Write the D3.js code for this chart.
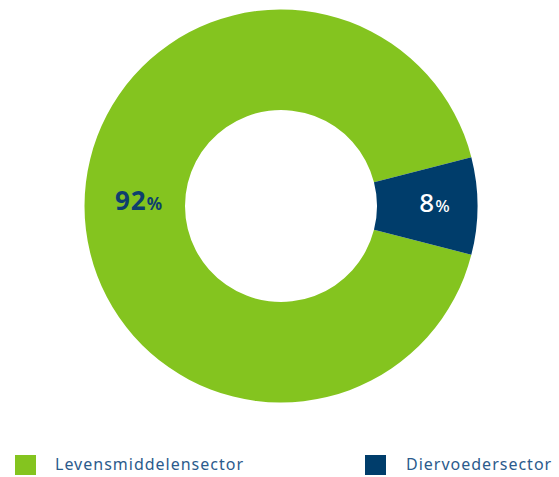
<!DOCTYPE html>
<html>
<head>
<meta charset="utf-8">
<script src="https://cdn.jsdelivr.net/npm/d3@7"></script>
<style>
  body { margin: 0; background: #fff; }
  svg { display: block; font-family: "Noto Sans", sans-serif; }
</style>
</head>
<body>
<svg id="chart" width="559" height="477"></svg>
<script>
const categories = ["Levensmiddelensector", "Diervoedersector"];
const values = [92, 8];
const colors = ["#84c41f", "#003d6b"];
const labelColors = ["#0e3f6e", "#ffffff"];
const labelWeights = [700, 500];

const svg = d3.select("#chart");
const cx = 281, cy = 206;
const outerR = 196.5, innerR = 96;

// blue slice centred at 3 o'clock
const half = values[1] / d3.sum(values) * Math.PI;
const pie = d3.pie().sort(null).value(d => d)
  .startAngle(Math.PI / 2 + half)
  .endAngle(Math.PI / 2 + half + 2 * Math.PI);
const arc = d3.arc().innerRadius(innerR).outerRadius(outerR);
const labelArc = d3.arc().innerRadius(148).outerRadius(148);

const g = svg.append("g").attr("transform", `translate(${cx},${cy})`);
const arcs = pie(values);

g.selectAll("path")
  .data(arcs)
  .join("path")
  .attr("d", arc)
  .attr("fill", (d, i) => colors[i]);

const lbl = g.selectAll("text.val")
  .data(arcs)
  .join("text")
  .attr("class", "val")
  .attr("transform", (d, i) => {
    const [x, y] = labelArc.centroid(d);
    return `translate(${x + 6},${y + (i === 0 ? 4 : 6)})`;
  })
  .attr("text-anchor", "middle")
  .attr("letter-spacing", 1)
  .attr("fill", (d, i) => labelColors[i])
  .attr("font-weight", (d, i) => labelWeights[i]);
lbl.append("tspan").attr("font-size", 26).text(d => d.data);
lbl.append("tspan").attr("font-size", 17).text("%");

// legend
const legendX = [15, 365];
const leg = svg.selectAll("g.leg")
  .data(categories)
  .join("g")
  .attr("class", "leg")
  .attr("transform", (d, i) => `translate(${legendX[i]},455)`);
leg.append("rect")
  .attr("width", 21).attr("height", 20)
  .attr("fill", (d, i) => colors[i]);
leg.append("text")
  .attr("x", (d, i) => i === 0 ? 40 : 41)
  .attr("y", 15)
  .attr("font-size", 16)
  .attr("letter-spacing", 1)
  .attr("fill", "#2b5b8c")
  .text(d => d);
</script>
</body>
</html>
